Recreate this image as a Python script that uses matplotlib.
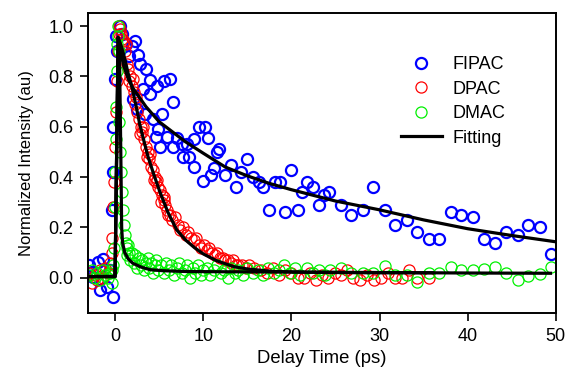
#!/usr/bin/python3

import numpy as np
from matplotlib import pyplot as plt

plt.rcParams['font.family'] = ['Liberation Sans', 'DejaVu Sans']

# FIPAC (blue) measured points
fipac_t = [-3.0, -2.6, -2.5, -1.9, -1.7, -1.4, -0.9, -0.6, -0.35, -0.25, -0.2, -0.2, 0.0, 0.1, 0.2,
           0.57, 0.8, 1.2, 1.6, 1.9, 2.0, 2.3, 2.5, 2.6, 2.8, 3.2, 3.4, 3.5, 4.0, 4.0, 4.3, 4.7, 4.8,
           4.9, 5.1, 5.3, 5.6, 5.9, 6.25, 6.6, 6.6, 7.0, 7.6, 7.7, 8.2, 8.4, 8.9, 9.0, 9.5, 10.0,
           10.2, 10.6, 10.9, 11.25, 11.6, 11.8, 12.5, 13.2, 13.75, 14.3, 15.0, 15.7, 16.3, 16.8,
           17.5, 18.1, 18.75, 19.3, 20.0, 20.7, 21.2, 21.8, 22.5, 23.1, 23.75, 24.3, 25.6, 26.8,
           28.1, 29.3, 30.6, 31.8, 33.1, 34.3, 35.6, 36.8, 38.1, 39.3, 40.6, 41.8, 43.1, 44.4,
           45.7, 46.9, 48.2, 49.4]
fipac_i = [0.05, 0.025, 0.005, 0.063, -0.05, 0.075, -0.035, 0.03, 0.27, -0.075, 0.42, 0.60, 0.79, 0.96, 0.90,
           1.0, 0.97, 0.93, 0.88, 0.92, 0.71, 0.94, 0.67, 0.885, 0.85, 0.75, 0.65, 0.83, 0.785, 0.73, 0.63, 0.56, 0.76,
           0.59, 0.52, 0.65, 0.78, 0.56, 0.79, 0.70, 0.52, 0.555, 0.53, 0.48, 0.53, 0.48, 0.55, 0.44, 0.60, 0.385,
           0.60, 0.555, 0.41, 0.435, 0.50, 0.51, 0.41, 0.45, 0.36, 0.42, 0.47, 0.40, 0.38, 0.36,
           0.27, 0.38, 0.38, 0.26, 0.43, 0.27, 0.34, 0.38, 0.36, 0.29, 0.33, 0.34, 0.29, 0.25,
           0.27, 0.36, 0.27, 0.21, 0.23, 0.18, 0.155, 0.155, 0.26, 0.25, 0.24, 0.155, 0.14, 0.18,
           0.17, 0.21, 0.20, 0.095]

# DPAC (red) measured points
dpac_t = [-2.9, -2.6, -2.3, -2.0, -1.7, -1.4, -1.1, -0.8, -0.6, -0.4,
          -0.3, -0.2, -0.1, 0.0, 0.1, 0.2, 0.3, 0.4,
          0.5, 0.6, 0.7, 0.8, 0.9, 1.0,
          1.1, 1.2, 1.3, 1.5, 1.6, 1.7, 1.9, 2.0, 2.1, 2.3, 2.4, 2.5, 2.7, 2.8, 2.9, 3.1, 3.2, 3.3,
          3.5, 3.6, 3.7, 3.9, 4.0, 4.1, 4.3, 4.4, 4.5, 4.7, 4.8, 4.9, 5.1, 5.2, 5.3, 5.5, 5.6, 5.7,
          5.9, 6.0,
          6.2, 6.5, 6.8, 7.1, 7.4, 7.7, 8.0, 8.3, 8.6, 8.9, 9.2, 9.5, 9.8, 10.1, 10.4, 10.7, 11.0,
          11.3, 11.6, 11.9, 12.2, 12.5, 12.8, 13.1, 13.4, 13.7, 14.0, 14.4, 14.8, 15.2,
          15.8, 16.5, 17.2, 17.9, 18.6, 19.3, 20.0, 20.7, 21.4, 22.1, 22.8, 23.5, 24.2, 24.9,
          25.6, 26.3, 27.0, 27.8, 28.6, 29.4, 30.2, 31.0, 31.8, 32.6, 33.4, 34.3, 35.6]
dpac_i = [0.02, -0.02, 0.01, -0.01, 0.03, 0.0, 0.04, 0.02, 0.06, 0.10,
          0.16, 0.28, 0.38, 0.52, 0.66, 0.78, 0.90, 0.97,
          1.0, 0.99, 0.97, 0.95, 0.93, 0.94,
          0.90, 0.93, 0.85, 0.83, 0.78, 0.80, 0.76, 0.79, 0.74, 0.69, 0.72, 0.66, 0.63, 0.57, 0.60, 0.58, 0.60, 0.55,
          0.52, 0.48, 0.50, 0.47, 0.49, 0.44, 0.43, 0.39, 0.40, 0.38, 0.39, 0.36, 0.35, 0.30, 0.33, 0.31, 0.32, 0.29,
          0.27, 0.25,
          0.25, 0.23, 0.24, 0.21, 0.19, 0.20, 0.17, 0.18, 0.16, 0.15, 0.16, 0.13, 0.12, 0.13, 0.11, 0.12, 0.10,
          0.09, 0.10, 0.08, 0.08, 0.07, 0.07, 0.06, 0.07, 0.05, 0.05, 0.05, 0.04, 0.05,
          0.04, 0.03, 0.02, 0.04, 0.01, 0.03, 0.02, 0.00, 0.00, 0.02, -0.01, 0.01, 0.00, 0.02,
          0.01, 0.03, 0.00, -0.01, 0.01, -0.01, 0.00, 0.02, 0.00, 0.00, 0.03, 0.00, 0.00]

# DMAC (green) measured points
dmac_t = [-2.9, -2.6, -2.3, -2.0, -1.7, -1.4, -1.1, -0.8, -0.6, -0.4, -0.3, -0.2,
          -0.1, 0.0, 0.05, 0.1, 0.15, 0.2, 0.25, 0.3, 0.35,
          0.4, 0.5, 0.6, 0.7, 0.8, 0.9, 1.0, 1.1, 1.2, 1.4, 1.6,
          1.3, 1.5, 1.7, 1.9, 2.1, 2.3, 2.5, 2.7, 2.9, 3.1, 3.3, 3.5, 3.7, 3.9, 4.1, 4.3, 4.5, 4.7,
          4.9, 5.2, 5.5, 5.8, 6.1, 6.4, 6.7, 7.0, 7.3, 7.6, 7.9, 8.2, 8.5, 8.8, 9.1, 9.4, 9.7,
          10.0, 10.4, 10.8, 11.2, 11.6, 12.0, 12.4, 12.8, 13.2, 13.6, 14.0, 14.5, 15.0, 15.6,
          16.2, 16.8, 17.4, 18.0, 18.6, 19.2, 19.8, 20.4, 21.0, 21.8, 22.5, 23.1, 23.8, 24.4,
          25.6, 26.8, 28.1, 29.3, 30.6, 31.8, 33.1, 34.3, 35.6, 36.8, 38.1, 39.3, 40.6, 41.8,
          43.1, 44.4, 45.7, 46.9, 48.2, 49.4]
dmac_i = [0.01, 0.03, 0.0, 0.02, -0.01, 0.03, 0.01, 0.0, 0.02, 0.03, -0.02, 0.05,
          0.12, 0.28, 0.42, 0.55, 0.68, 0.82, 0.93, 1.0, 0.96,
          0.90, 0.62, 0.50, 0.42, 0.34, 0.27, 0.21, 0.17, 0.14, 0.12, 0.10,
          0.09, 0.13, 0.07, 0.10, 0.06, 0.09, 0.04, 0.08, 0.05, 0.07, 0.03, 0.06, 0.08, 0.04, 0.06, 0.02, 0.05, 0.07,
          0.03, 0.05, 0.02, 0.06, 0.03, 0.05, 0.01, 0.04, 0.06, 0.02, 0.03, 0.05, 0.00, 0.04, 0.02, 0.05, 0.01,
          0.03, 0.04, 0.01, 0.03, 0.05, 0.02, 0.03, 0.00, 0.04, 0.02, 0.03, 0.01, 0.04, 0.02,
          0.03, 0.01, 0.04, 0.02, 0.03, 0.05, 0.02, 0.04, 0.01, 0.04, 0.02, 0.03, 0.01, 0.03,
          0.04, 0.02, 0.02, 0.02, 0.045, 0.01, 0.01, -0.015, 0.02, 0.02, 0.044, 0.03, 0.03, 0.035,
          0.044, 0.02, -0.008, 0.008, 0.016, 0.044]

# fitted curves
fit_fipac_t = [-3.1, 0.0, 0.35, 0.6, 1.0, 1.5, 2.0, 2.5, 3.5, 5.0, 6.5, 8.0, 10.0, 12.5, 15.0,
               17.5, 20.0, 25.0, 30.0, 35.0, 40.0, 45.0, 50.0]
fit_fipac_i = [0.005, 0.005, 0.955, 0.90, 0.84, 0.79, 0.755, 0.73, 0.68, 0.62, 0.58, 0.54, 0.495, 0.44, 0.405,
               0.375, 0.35, 0.305, 0.27, 0.23, 0.195, 0.168, 0.143]
fit_dpac_t = [-3.1, 0.0, 0.35, 0.7, 1.1, 1.5, 1.9, 2.4, 2.8, 3.3, 3.75, 4.4, 5.1, 6.0, 7.0, 8.0,
              9.0, 10.0, 11.5, 13.4, 15.0, 18.0, 22.0, 28.0, 36.0]
fit_dpac_i = [0.005, 0.005, 0.955, 0.92, 0.87, 0.81, 0.76, 0.68, 0.61, 0.54, 0.48, 0.41, 0.34, 0.26, 0.19, 0.15,
              0.12, 0.095, 0.068, 0.045, 0.035, 0.025, 0.022, 0.02, 0.02]
fit_dmac_t = [-3.1, 0.0, 0.35, 0.5, 0.65, 0.75, 0.85, 1.1, 1.5, 2.0, 3.0, 4.0, 5.5, 8.0, 12.0,
              19.0, 30.0, 40.0, 49.4]
fit_dmac_i = [0.005, 0.005, 0.955, 0.90, 0.50, 0.20, 0.14, 0.10, 0.075, 0.058, 0.042, 0.032, 0.028, 0.025, 0.024,
              0.023, 0.021, 0.019, 0.018]


def main():
    fig = plt.figure(figsize=[5.66, 3.74], dpi=100)
    ax = fig.add_axes([0.155, 0.163, 0.827, 0.803])

    ax.plot(fipac_t, fipac_i, 'o', mfc='none', mec='#0000ff', ms=8, mew=1.6, label='FIPAC')
    ax.plot(dpac_t, dpac_i, 'o', mfc='none', mec='#ff0000', ms=8, mew=0.9, label='DPAC')
    ax.plot(dmac_t, dmac_i, 'o', mfc='none', mec='#00f000', ms=8, mew=0.9, label='DMAC')

    ax.plot(fit_fipac_t, fit_fipac_i, color='black', linewidth=2.3, label='Fitting')
    ax.plot(fit_dpac_t, fit_dpac_i, color='black', linewidth=2.3)
    ax.plot(fit_dmac_t, fit_dmac_i, color='black', linewidth=2.3)

    ax.set_xlim(-3.1, 50)
    ax.set_ylim(-0.14, 1.053)
    ax.set_xticks([0, 10, 20, 30, 40, 50])
    ax.set_yticks([0.0, 0.2, 0.4, 0.6, 0.8, 1.0])
    ax.set_yticklabels(['0.0', '0.2', '0.4', '0.6', '0.8', '1.0'])
    ax.tick_params(direction='out', length=5.5, width=1.2, pad=5, labelsize=13)
    for s in ax.spines.values():
        s.set_linewidth(1.4)

    ax.set_xlabel("Delay Time (ps)", fontsize=13.3, labelpad=4)
    ax.set_ylabel("Normalized Intensity (au)", fontsize=12, labelpad=10)

    ax.legend(loc='upper left', bbox_to_anchor=(0.653, 0.88), frameon=False, fontsize=13,
              handlelength=2.3, handletextpad=0.6, labelspacing=0.42, borderaxespad=0)

    fig.savefig("out.png", dpi=100)


if __name__ == '__main__':
    main()
